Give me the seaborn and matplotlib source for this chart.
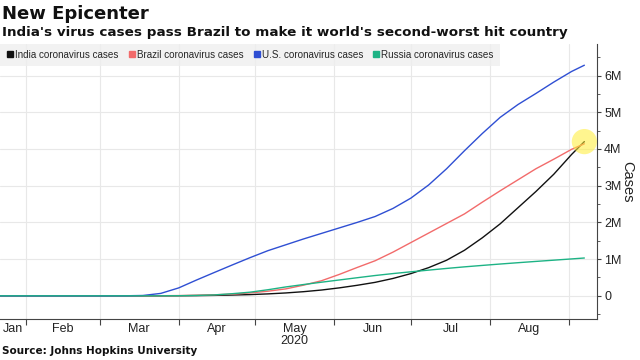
import pandas as pd
import numpy as np
import matplotlib
matplotlib.use('Agg')
import matplotlib.pyplot as plt
from matplotlib.lines import Line2D
import seaborn as sns

# Data (cumulative cases, millions), weekly from Jan 22 plus last day
dates = list(pd.date_range('2020-01-22', '2020-09-02', freq='7D')) + [pd.Timestamp('2020-09-07')]
india = [0, 0, 0, 0, 0, 0, 0.00003, 0.00006, 0.00015, 0.00066, 0.0024, 0.0057, 0.0124, 0.0214,
         0.0334, 0.0525, 0.0784, 0.113, 0.158, 0.217, 0.287, 0.367, 0.473, 0.605, 0.768, 0.969,
         1.24, 1.58, 1.96, 2.40, 2.84, 3.31, 3.85, 4.20]
brazil = [0, 0, 0, 0, 0, 0, 0, 0.00005, 0.0004, 0.0025, 0.0068, 0.0167, 0.028, 0.046,
          0.079, 0.126, 0.189, 0.291, 0.411, 0.584, 0.773, 0.955, 1.19, 1.45, 1.71, 1.97,
          2.23, 2.55, 2.86, 3.16, 3.46, 3.72, 3.99, 4.14]
us = [0, 0, 0, 0, 0, 0.00006, 0.00015, 0.0013, 0.0092, 0.066, 0.215, 0.43, 0.636, 0.84,
      1.04, 1.23, 1.39, 1.55, 1.70, 1.85, 2.00, 2.16, 2.38, 2.66, 3.02, 3.46, 3.95, 4.42,
      4.86, 5.21, 5.51, 5.82, 6.11, 6.28]
russia = [0, 0, 0, 0, 0, 0, 0, 0.00002, 0.00015, 0.00066, 0.0028, 0.0111, 0.0245, 0.0578,
          0.0993, 0.166, 0.242, 0.308, 0.371, 0.432, 0.493, 0.553, 0.606, 0.654, 0.700, 0.746,
          0.789, 0.828, 0.866, 0.902, 0.937, 0.971, 1.005, 1.03]

series_names = ['India coronavirus cases', 'Brazil coronavirus cases',
                'U.S. coronavirus cases', 'Russia coronavirus cases']
colors = ['#111111', '#f26b6b', '#2f4fd3', '#1db385']
month_labels = ['Jan', 'Feb', 'Mar', 'Apr', 'May', 'Jun', 'Jul', 'Aug']

df = pd.DataFrame({'date': dates, series_names[0]: india, series_names[1]: brazil,
                   series_names[2]: us, series_names[3]: russia})
long = df.melt(id_vars='date', var_name='series', value_name='cases')

sns.set_theme(style='white')
plt.rcParams['font.family'] = ['Liberation Sans', 'DejaVu Sans']

fig = plt.figure(figsize=(6.4, 3.6), dpi=100)
ax = fig.add_axes([0.0, 0.114, 0.933, 0.764])

# gridlines
ax.set_axisbelow(True)
ax.grid(True, which='major', color='#e8e8e8', linewidth=0.8)

sns.lineplot(data=long, x='date', y='cases', hue='series', hue_order=series_names,
             palette=colors, linewidth=1.0, legend=False, ax=ax)

# yellow highlight at the crossing point
ax.scatter([dates[-1]], [india[-1]], s=330, color='#ffee33', alpha=0.55, zorder=5,
           edgecolors='none')

ax.set_xlim(pd.Timestamp('2020-01-22'), pd.Timestamp('2020-09-12'))
ax.set_ylim(-0.63, 6.86)

# y axis on right
ax.yaxis.tick_right()
ax.yaxis.set_label_position('right')
ax.set_yticks(range(0, 7))
ax.set_yticklabels(['0'] + [f'{i}M' for i in range(1, 7)])
ax.set_yticks(np.arange(-0.5, 6.9, 0.5), minor=True)
ax.tick_params(axis='y', which='major', length=3, width=0.8, color='#444444',
               labelsize=9, pad=2, labelcolor='#222222', right=True, left=False)
ax.tick_params(axis='y', which='minor', length=2, width=0.6, color='#444444', right=True, left=False)
ax.set_ylabel('Cases', fontsize=10.5, rotation=270, labelpad=9, color='#222222')
ax.set_xlabel('')

# x axis: month starts as ticks, labels centred in each month
month_starts = pd.date_range('2020-02-01', '2020-09-01', freq='MS')
ax.set_xticks(month_starts)
ax.set_xticklabels([])
ax.tick_params(axis='x', which='major', length=4, width=0.8, color='#444444', bottom=True)
edges = [pd.Timestamp('2020-01-22')] + list(month_starts)
mids = [edges[i] + (edges[i + 1] - edges[i]) / 2 for i in range(len(month_labels))]
ax.set_xticks(mids, minor=True)
ax.set_xticklabels(month_labels, minor=True)
ax.tick_params(axis='x', which='minor', length=0, labelsize=9, pad=3, labelcolor='#222222')
ax.text(mids[4], -0.06, '2020', transform=ax.get_xaxis_transform(), ha='center',
        va='top', fontsize=9, color='#222222')

for side in ['top', 'left']:
    ax.spines[side].set_visible(False)
for side in ['right', 'bottom']:
    ax.spines[side].set_color('#444444')
    ax.spines[side].set_linewidth(0.8)

# legend
handles = [Line2D([], [], marker='s', linestyle='none', markersize=4.5, color=c) for c in colors]
leg = ax.legend(handles, series_names, loc='upper left', bbox_to_anchor=(0.0, 1.0), ncol=4,
                frameon=True, fontsize=7.1, handletextpad=0.05, columnspacing=0.9,
                borderaxespad=0.0, borderpad=0.6, handlelength=0.9)
leg.get_frame().set_facecolor('#efefef')
leg.get_frame().set_edgecolor('none')
leg.get_frame().set_boxstyle('square', pad=0.0)

# titles and source
fig.text(0.003, 0.962, 'New Epicenter', fontsize=13, fontweight='bold', ha='left', va='center',
         family='DejaVu Sans', color='#111111')
fig.text(0.003, 0.91, "India's virus cases pass Brazil to make it world's second-worst hit country",
         fontsize=9.7, fontweight='bold', ha='left', va='center', family='DejaVu Sans', color='#111111')
fig.text(0.003, 0.012, 'Source: Johns Hopkins University', fontsize=7.5, fontweight='bold',
         ha='left', va='bottom', family='DejaVu Sans', color='#111111')

fig.savefig('out.png', dpi=100)
